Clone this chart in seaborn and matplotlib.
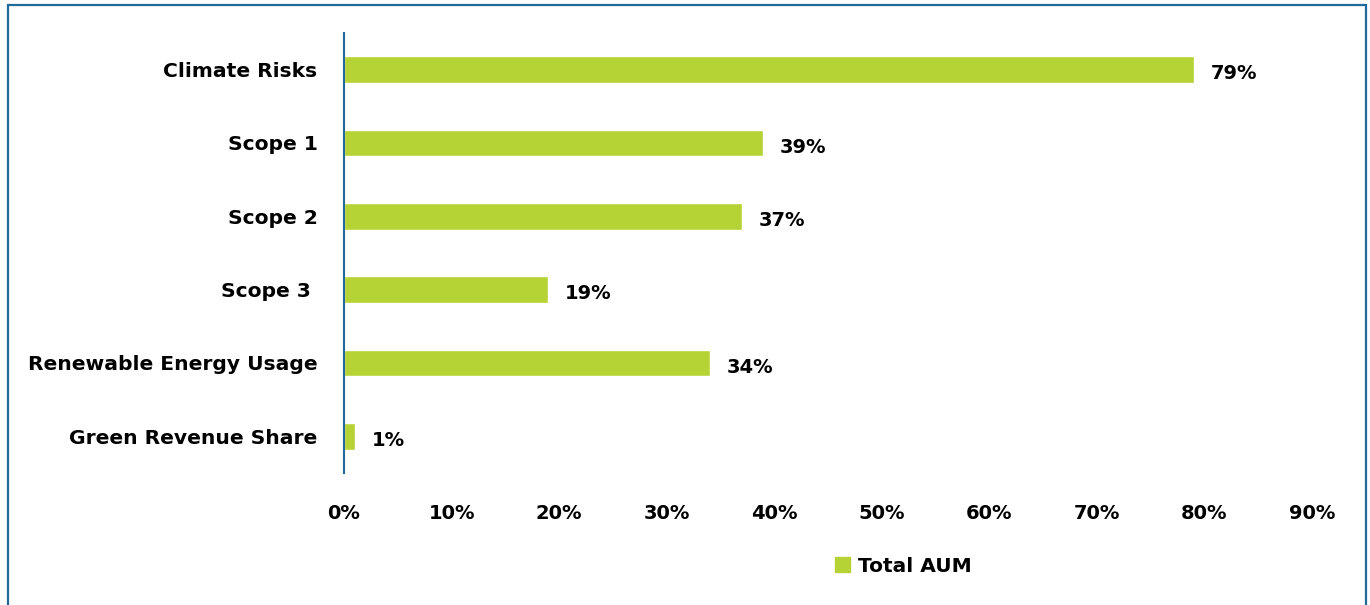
import matplotlib
matplotlib.use("Agg")
import matplotlib.pyplot as plt
import matplotlib.patches as mpatches
import pandas as pd
import seaborn as sns

categories = ["Climate Risks", "Scope 1", "Scope 2", "Scope 3 ",
              "Renewable Energy Usage", "Green Revenue Share"]
total_aum = [0.79, 0.39, 0.37, 0.19, 0.34, 0.01]
value_labels = ["79%", "39%", "37%", "19%", "34%", "1%"]
x_ticks = [0.0, 0.1, 0.2, 0.3, 0.4, 0.5, 0.6, 0.7, 0.8, 0.9]
x_tick_labels = ["0%", "10%", "20%", "30%", "40%", "50%", "60%", "70%", "80%", "90%"]
series_name = "Total AUM"

bar_color = "#b5d334"
axis_blue = "#1f6a9a"

sns.set_theme(style="white")
plt.rcParams["font.family"] = ["DejaVu Sans"]

df = pd.DataFrame({"category": categories, "value": total_aum})

fig = plt.figure(figsize=(13.7, 6.05), dpi=100)
ax = fig.add_axes([0.2511, 0.2182, 0.7066, 0.7273])

sns.barplot(data=df, y="category", x="value", orient="h", color=bar_color,
            width=0.36, saturation=1, ax=ax)

for patch, lab in zip(ax.patches, value_labels):
    y = patch.get_y() + patch.get_height() / 2
    ax.annotate(lab, (patch.get_width(), y), xytext=(12, -3),
                textcoords="offset points", ha="left", va="center",
                fontsize=14, fontweight="bold", color="black")

ax.set_xlim(0, 0.9)
ax.set_ylim(5.5, -0.5)
ax.set_xticks(x_ticks)
ax.set_xticklabels(x_tick_labels)
ax.set_xlabel("")
ax.set_ylabel("")
ax.tick_params(axis="x", length=0, pad=22, labelsize=14)
ax.tick_params(axis="y", length=0, pad=19, labelsize=14.6)
for t in ax.get_xticklabels() + ax.get_yticklabels():
    t.set_fontweight("bold")
    t.set_color("black")

for side in ["top", "right", "bottom"]:
    ax.spines[side].set_visible(False)
ax.spines["left"].set_color(axis_blue)
ax.spines["left"].set_linewidth(1.5)

handle = mpatches.Patch(color=bar_color, label=series_name)
leg = fig.legend(handles=[handle], loc="center left",
                 bbox_to_anchor=(0.596, 0.064), frameon=False,
                 handlelength=0.75, handleheight=0.75, handletextpad=0.4,
                 prop={"size": 14.5, "weight": "bold"})
for t in leg.get_texts():
    t.set_color("black")

border = mpatches.Rectangle((0.0055, -0.02), 0.9915, 1.012, transform=fig.transFigure,
                            fill=False, edgecolor=axis_blue, linewidth=1.6)
fig.add_artist(border)

fig.savefig("out.png", dpi=100, facecolor="white")
